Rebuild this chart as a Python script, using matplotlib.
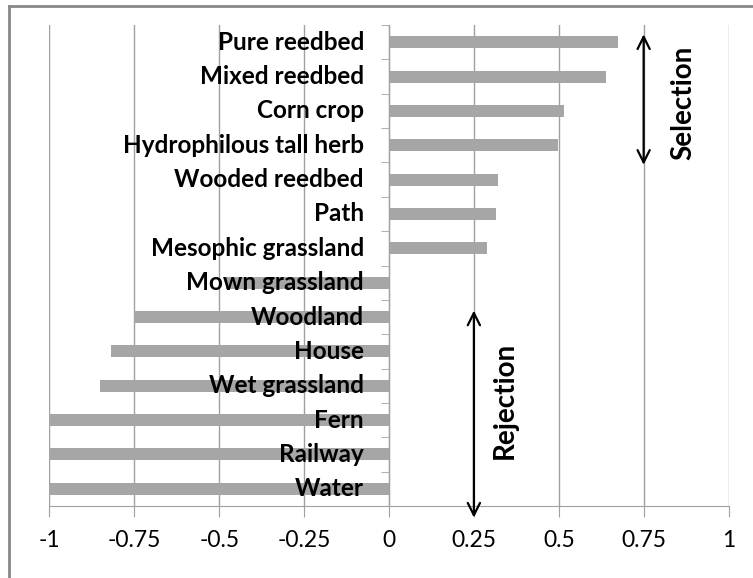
import matplotlib
matplotlib.use("Agg")
import matplotlib.pyplot as plt
from matplotlib.lines import Line2D
import numpy as np

habitats = ["Pure reedbed", "Mixed reedbed", "Corn crop", "Hydrophilous tall herb",
            "Wooded reedbed", "Path", "Mesophic grassland", "Mown grassland",
            "Woodland", "House", "Wet grassland", "Fern", "Railway", "Water"]
index_values = [0.675, 0.638, 0.516, 0.499, 0.320, 0.316, 0.290, -0.48,
                -0.75, -0.82, -0.85, -1.0, -1.0, -1.0]
x_ticks = [-1, -0.75, -0.5, -0.25, 0, 0.25, 0.5, 0.75, 1]
x_tick_labels = ["-1", "-0.75", "-0.5", "-0.25", "0", "0.25", "0.5", "0.75", "1"]

plt.rcParams["font.family"] = ["Lato", "DejaVu Sans"]

fig = plt.figure(figsize=(7.53, 5.78), dpi=100)
ax = fig.add_axes([0.0657, 0.1246, 0.9018, 0.8321])

# spine position first, it resets the ticks
ax.spines["top"].set_visible(False)
ax.spines["right"].set_visible(False)
ax.spines["left"].set_position(("data", 0))
ax.spines["left"].set_color("#a0a0a0")
ax.spines["bottom"].set_color("#a0a0a0")
ax.spines["left"].set_zorder(3)

y = np.arange(len(habitats))
ax.barh(y, index_values, height=0.35, color="#a6a6a6", zorder=2)

ax.set_xlim(-1, 1)
ax.set_ylim(len(habitats) - 0.5, -0.5)
ax.set_xticks(x_ticks)
ax.set_xticklabels(x_tick_labels, fontsize=16.5)
ax.set_yticks(y)
ax.set_yticklabels([])
ax.set_yticks(np.arange(len(habitats) + 1) - 0.5, minor=True)

# category names sit on top of the bars, left of the zero line
for i, name in enumerate(habitats):
    ax.annotate(name, xy=(0, i), xytext=(-18, 0), textcoords="offset points",
                ha="right", va="center", fontsize=17.5, fontweight="bold", zorder=4)

ax.grid(axis="x", color="#a0a0a0", lw=1, zorder=0)
ax.tick_params(axis="y", which="major", length=0)
ax.tick_params(axis="y", which="minor", length=6, color="#a0a0a0")
ax.tick_params(axis="x", length=8, color="#a0a0a0", pad=9)

# selection / rejection arrows
ax.annotate("", xy=(0.75, -0.31), xytext=(0.75, 3.65),
            arrowprops=dict(arrowstyle="<->", lw=1.6, color="black", mutation_scale=22),
            annotation_clip=False)
ax.text(0.866, 1.76, "Selection", rotation=90, ha="center", va="center",
        fontsize=20, fontweight="bold")
ax.annotate("", xy=(0.25, 7.73), xytext=(0.25, 13.92),
            arrowprops=dict(arrowstyle="<->", lw=1.6, color="black", mutation_scale=22),
            annotation_clip=False)
ax.text(0.342, 10.42, "Rejection", rotation=90, ha="center", va="center",
        fontsize=20, fontweight="bold")

# outer frame (top and left edges)
fig.add_artist(Line2D([9 / 753, 9 / 753], [0, 1 - 6 / 578], color="#888888", lw=2))
fig.add_artist(Line2D([9 / 753, 1], [1 - 6 / 578, 1 - 6 / 578], color="#888888", lw=2))

fig.savefig("out.png", dpi=100)
